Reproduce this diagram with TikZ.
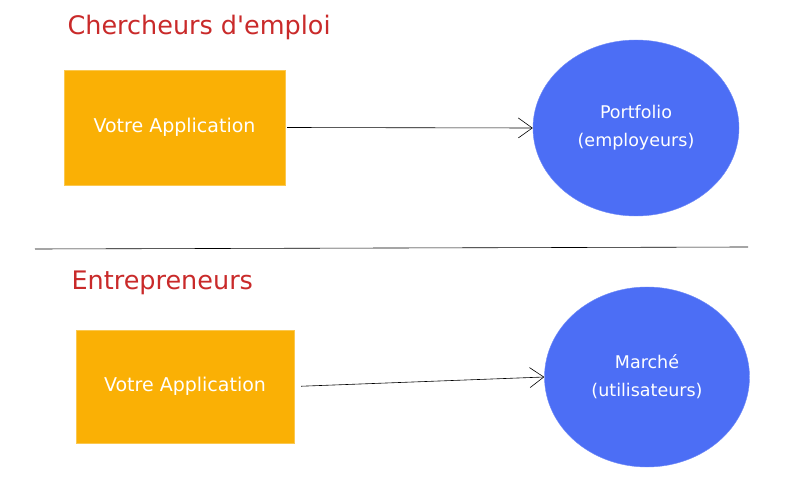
\documentclass[tikz,border=0pt]{standalone}
\usepackage{fontspec}
\setmainfont{DejaVu Sans}
\usetikzlibrary{arrows.meta, shapes.geometric}
\definecolor{appyellow}{HTML}{FAB005}
\definecolor{targetblue}{HTML}{4C6EF5}
\definecolor{headred}{HTML}{C92A2A}
\begin{document}
\begin{tikzpicture} [x = 1pt, y = -1pt,
  app/.style = {rectangle, fill = appyellow, draw = appyellow!70, text = white, font = \fontsize{19}{22}\selectfont},
  target/.style = {ellipse, fill = targetblue, draw = targetblue!80, text = white, align = center, inner sep = 0pt, font = \fontsize{17.5}{28}\selectfont},
  head/.style = {anchor = west, text = headred, font = \fontsize{25.5}{30}\selectfont},
  flow/.style = {-{Straight Barb[length = 14pt, width = 20pt]}, semithick}]
\useasboundingbox (0,0) rectangle (790,478);
\node[head] (h1) at (64,27) {Chercheurs d\textquotesingle emploi};
\node[app, minimum width = 221pt, minimum height = 115pt] (a1) at (174.5,127.5) {Votre Application};
\node[target, minimum width = 206pt, minimum height = 176pt] (p1) at (636,128) {Portfolio\\(employeurs)};
\coordinate (l1) at (35,249);
\coordinate (l2) at (748,247);
\node[head] (h2) at (68,283) {Entrepreneurs};
\node[app, minimum width = 218pt, minimum height = 113pt] (a2) at (185,386.5) {Votre Application};
\node[target, minimum width = 205pt, minimum height = 180pt] (m2) at (647,377) {March\'e\\(utilisateurs)};
\draw [flow, shorten <= 2pt] (a1.east) -- (p1.west);
\draw [flow, shorten <= 7pt] (a2.east) -- (m2.west);
\draw [semithick] (l1) -- (l2);
\end{tikzpicture}
\end{document}
